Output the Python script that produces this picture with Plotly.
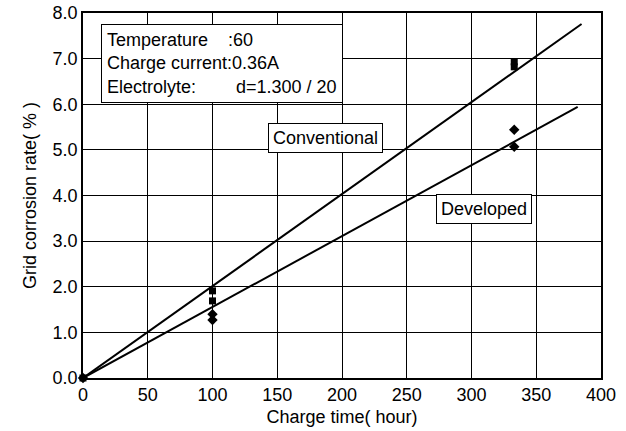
import plotly.graph_objects as go

# Measured data
conv_x = [0, 100, 100, 333, 333]
conv_y = [0, 1.91, 1.69, 6.93, 6.82]
dev_x = [0, 100, 100, 333, 333]
dev_y = [0, 1.40, 1.27, 5.44, 5.07]

# Fitted lines
conv_line_x = [0, 385]
conv_line_y = [0, 7.76]
dev_line_x = [0, 382]
dev_line_y = [0, 5.94]

x_ticks = [0, 50, 100, 150, 200, 250, 300, 350, 400]
y_ticks = [0, 1, 2, 3, 4, 5, 6, 7, 8]
y_tick_labels = ["0.0", "1.0", "2.0", "3.0", "4.0", "5.0", "6.0", "7.0", "8.0"]

FONT = "Liberation Sans, Arial, sans-serif"

fig = go.Figure()
fig.add_trace(go.Scatter(x=conv_line_x, y=conv_line_y, mode="lines",
                         line=dict(color="black", width=2), showlegend=False, cliponaxis=False))
fig.add_trace(go.Scatter(x=dev_line_x, y=dev_line_y, mode="lines",
                         line=dict(color="black", width=2), showlegend=False, cliponaxis=False))
fig.add_trace(go.Scatter(x=dev_x, y=dev_y, mode="markers",
                         marker=dict(symbol="diamond", size=8, color="black"),
                         showlegend=False, cliponaxis=False))
fig.add_trace(go.Scatter(x=conv_x, y=conv_y, mode="markers",
                         marker=dict(symbol="square", size=7, color="black"),
                         showlegend=False, cliponaxis=False))

fig.add_annotation(x=0.035, y=0.970, xref="paper", yref="paper", xanchor="left", yanchor="top",
                   text="Temperature    :60<br>Charge current:0.36A<br>Electrolyte:        d=1.300 / 20",
                   showarrow=False, align="left", bordercolor="black", borderwidth=1,
                   bgcolor="white", borderpad=5, font=dict(family=FONT, size=18, color="black"))
fig.add_annotation(x=187, y=5.26, xref="x", yref="y", text="Conventional", showarrow=False,
                   bordercolor="black", borderwidth=1, bgcolor="white", borderpad=4,
                   font=dict(family=FONT, size=18, color="black"))
fig.add_annotation(x=310, y=3.71, xref="x", yref="y", text="Developed", showarrow=False,
                   bordercolor="black", borderwidth=1, bgcolor="white", borderpad=4,
                   font=dict(family=FONT, size=18, color="black"))

fig.update_layout(
    width=626, height=431,
    margin=dict(l=83, r=25, t=13, b=53),
    paper_bgcolor="white", plot_bgcolor="white",
    font=dict(family=FONT, size=18, color="black"),
)
fig.update_xaxes(range=[0, 400], tickvals=x_ticks, showgrid=True, gridcolor="black", gridwidth=1,
                 showline=True, linecolor="black", linewidth=1.5, mirror=True, zeroline=False,
                 ticks="", automargin=False,
                 title=dict(text="Charge time( hour)", standoff=6, font=dict(size=18)))
fig.update_yaxes(range=[0, 8], tickvals=y_ticks, ticktext=y_tick_labels, showgrid=True,
                 gridcolor="black", gridwidth=1, showline=True, linecolor="black", linewidth=1.5,
                 mirror=True, zeroline=False, ticks="", automargin=False,
                 title=dict(text="Grid corrosion rate( % )", standoff=11, font=dict(size=18)))

fig.write_html("out.html")
